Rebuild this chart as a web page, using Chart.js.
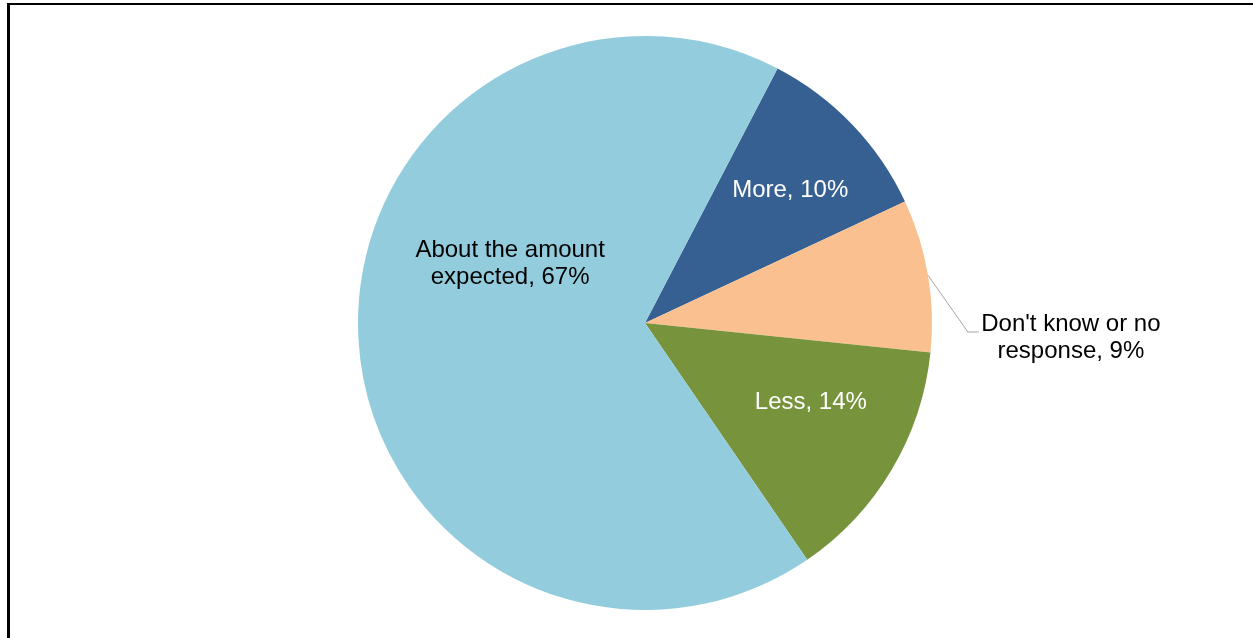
<!DOCTYPE html>
<html lang="en">
<head>
  <meta charset="UTF-8">
  <title>Pie chart</title>
  <script src="https://cdn.jsdelivr.net/npm/chart.js"></script>
  <style>
    html, body { margin: 0; padding: 0; background: #fff; }
    #wrap { position: relative; width: 1253px; height: 638px; }
    #frame { position: absolute; left: 7px; top: 3px; right: 0; bottom: 0;
             border-top: 2px solid #000; border-left: 3px solid #000; pointer-events: none; }
    canvas { position: absolute; left: 0; top: 0; }
  </style>
</head>
<body>
<div id="wrap">
  <canvas id="pie" width="1253" height="638"></canvas>
  <div id="frame"></div>
</div>

<script>
  // slices, clockwise starting from "More" (shares)
  const labels = ['More', "Don't know or no response", 'Less', 'About the amount expected'];
  const values = [10.4, 8.6, 13.8, 67.2];
  const colors = ['#376092', '#FAC090', '#77933C', '#93CDDD'];
  const textLines = [['More, 10%'], ["Don't know or no", 'response, 9%'], ['Less, 14%'], ['About the amount', 'expected, 67%']];
  const textColors = ['#fff', '#000', '#fff', '#000'];

  // where each label sits: angle shift from slice middle (deg) and radius fraction
  const placement = [
    { shift: 1.3, frac: 0.686 },
    { outside: true },
    { shift: -5.3, frac: 0.64 },
    { shift: 27.1, frac: 0.513 }
  ];

  const labelPlugin = {
    id: 'sliceLabels',
    afterDatasetsDraw(chart) {
      const ctx = chart.ctx;
      const arcs = chart.getDatasetMeta(0).data;
      ctx.save();
      ctx.font = '24px "Liberation Sans", Arial, sans-serif';
      ctx.textAlign = 'center';
      ctx.textBaseline = 'middle';
      arcs.forEach((arc, i) => {
        const p = placement[i];
        const mid = (arc.startAngle + arc.endAngle) / 2;
        const r = arc.outerRadius;
        let tx, ty;
        if (p.outside) {
          const ex = arc.x + Math.cos(mid) * r;
          const ey = arc.y + Math.sin(mid) * r;
          const bx = arc.x + r * 1.125, by = arc.y + 9;
          ctx.strokeStyle = '#a6a6a6';
          ctx.lineWidth = 1;
          ctx.beginPath();
          ctx.moveTo(ex, ey);
          ctx.lineTo(bx, by);
          ctx.lineTo(bx + 11, by);
          ctx.stroke();
          tx = bx + 103; ty = by + 6;
        } else {
          const a = mid + p.shift * Math.PI / 180;
          tx = arc.x + Math.cos(a) * r * p.frac;
          ty = arc.y + Math.sin(a) * r * p.frac;
        }
        ctx.fillStyle = textColors[i];
        const lines = textLines[i];
        const lh = 27;
        lines.forEach((ln, k) => {
          ctx.fillText(ln, tx, ty + (k - (lines.length - 1) / 2) * lh);
        });
      });
      ctx.restore();
    }
  };

  new Chart(document.getElementById('pie'), {
    type: 'pie',
    data: {
      labels: labels,
      datasets: [{
        data: values,
        backgroundColor: colors,
        borderWidth: 0
      }]
    },
    options: {
      responsive: false,
      animation: false,
      rotation: 27.5,
      layout: { padding: { top: 36, bottom: 28, left: 37, right: 0 } },
      plugins: { legend: { display: false }, tooltip: { enabled: false } }
    },
    plugins: [labelPlugin]
  });
</script>
</body>
</html>
